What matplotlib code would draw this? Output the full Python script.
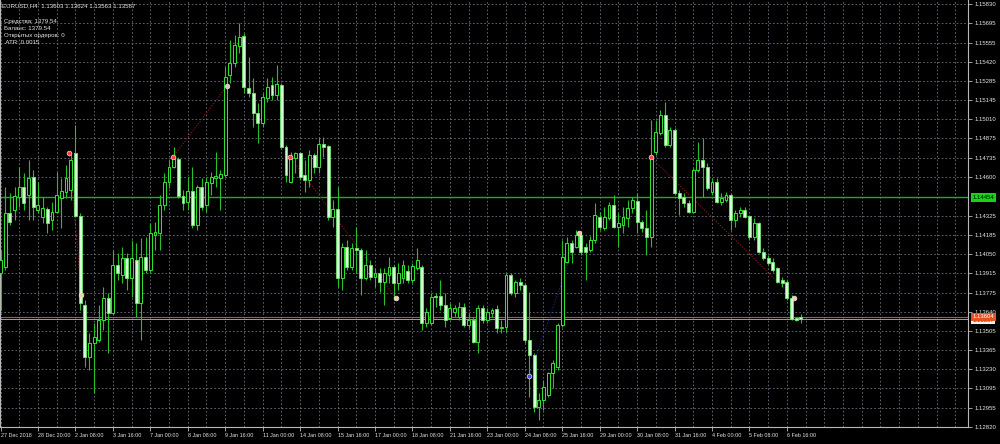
import matplotlib
matplotlib.use("Agg")
import matplotlib.pyplot as plt
import numpy as np

FONT = ['Liberation Sans', 'DejaVu Sans']

title_text = "EURUSD,H4  1.13603 1.13624 1.13563 1.13587"
info_lines = ["Средства: 1379.54", "Баланс: 1379.54", "Открытых ордеров: 0", " ATR: 0.0015"]

opens = [
    1.13915, 1.13958, 1.14342, 1.14364, 1.14456, 1.14528, 1.14471, 1.14599, 1.14364, 1.14314,
    1.14371, 1.14293, 1.14350, 1.14449, 1.14492, 1.14506, 1.14770, 1.14321, 1.13687, 1.13317,
    1.13417, 1.13438, 1.13581, 1.13737, 1.13630, 1.13972, 1.13901, 1.14022, 1.13880, 1.14008,
    1.13702, 1.14029, 1.13937, 1.14186, 1.14200, 1.14399, 1.14563, 1.14670, 1.14727, 1.14463,
    1.14421, 1.14499, 1.14257, 1.14528, 1.14399, 1.14556, 1.14592, 1.14592, 1.14613, 1.15325,
    1.15410, 1.15531, 1.15603, 1.15232, 1.15197, 1.15054, 1.14983, 1.15161, 1.15254, 1.15183,
    1.15254, 1.14812, 1.14563, 1.14734, 1.14770, 1.14613, 1.14577, 1.14755, 1.14670, 1.14834,
    1.14819, 1.14314, 1.14371, 1.13880, 1.14100, 1.13958, 1.14093, 1.14079, 1.13880, 1.13972,
    1.13887, 1.13915, 1.13851, 1.13901, 1.13958, 1.13844, 1.13880, 1.13929, 1.13865, 1.13951,
    1.13958, 1.13559, 1.13559, 1.13751, 1.13751, 1.13687, 1.13595, 1.13638, 1.13602, 1.13673,
    1.13545, 1.13581, 1.13424, 1.13666, 1.13581, 1.13630, 1.13659, 1.13524, 1.13531, 1.13901,
    1.13773, 1.13851, 1.13830, 1.13438, 1.13331, 1.12961, 1.13011, 1.13047, 1.13203, 1.13246,
    1.13545, 1.13994, 1.14129, 1.14100, 1.14186, 1.14100, 1.14079, 1.14150, 1.14314, 1.14236,
    1.14307, 1.14399, 1.14243, 1.14257, 1.14307, 1.14378, 1.14428, 1.14278, 1.14236, 1.14172,
    1.14777, 1.14912, 1.15040, 1.14827, 1.14933, 1.14485, 1.14456, 1.14414, 1.14350, 1.14649,
    1.14720, 1.14670, 1.14492, 1.14563, 1.14421, 1.14435, 1.14471, 1.14293, 1.14342, 1.14364,
    1.14321, 1.14172, 1.14271, 1.14065, 1.14022, 1.13994, 1.13951, 1.13865, 1.13851, 1.13737,
    1.13595, 1.13603,
]
highs = [
    1.14079, 1.14528, 1.14485, 1.14528, 1.14670, 1.14627, 1.14720, 1.14649, 1.14563, 1.14456,
    1.14385, 1.14421, 1.14634, 1.14592, 1.14684, 1.14777, 1.14969, 1.14342, 1.13723, 1.13488,
    1.13559, 1.13687, 1.13816, 1.13773, 1.14079, 1.14058, 1.14100, 1.14058, 1.14150, 1.14129,
    1.14164, 1.14172, 1.14271, 1.14278, 1.14471, 1.14627, 1.14720, 1.14812, 1.14741, 1.14506,
    1.14599, 1.14670, 1.14542, 1.14592, 1.14599, 1.14634, 1.14777, 1.14649, 1.15382, 1.15574,
    1.15610, 1.15695, 1.15624, 1.15453, 1.15304, 1.15126, 1.15197, 1.15304, 1.15311, 1.15396,
    1.15268, 1.14827, 1.14777, 1.14777, 1.14777, 1.14720, 1.14791, 1.14770, 1.14884, 1.14884,
    1.14827, 1.14435, 1.14528, 1.14129, 1.14150, 1.14129, 1.14243, 1.14093, 1.14079, 1.14008,
    1.13951, 1.13951, 1.13951, 1.14029, 1.13972, 1.13986, 1.14008, 1.13972, 1.13986, 1.14093,
    1.13972, 1.13666, 1.13773, 1.13773, 1.13865, 1.13773, 1.13702, 1.13687, 1.13709, 1.13702,
    1.13630, 1.13602, 1.13687, 1.13687, 1.13666, 1.13666, 1.13687, 1.13581, 1.13915, 1.13915,
    1.13865, 1.13880, 1.13844, 1.13780, 1.13346, 1.13061, 1.13153, 1.13210, 1.13296, 1.13559,
    1.14150, 1.14172, 1.14150, 1.14221, 1.14207, 1.14129, 1.14179, 1.14414, 1.14350, 1.14385,
    1.14421, 1.14471, 1.14342, 1.14385, 1.14435, 1.14456, 1.14485, 1.14293, 1.14364, 1.15005,
    1.15005, 1.15076, 1.15133, 1.14955, 1.14948, 1.14506, 1.14485, 1.14435, 1.14663, 1.14848,
    1.14876, 1.14698, 1.14592, 1.14592, 1.14485, 1.14492, 1.14485, 1.14364, 1.14385, 1.14385,
    1.14328, 1.14307, 1.14278, 1.14093, 1.14043, 1.14022, 1.13958, 1.13887, 1.13865, 1.13759,
    1.13602, 1.13624,
]
lows = [
    1.13652, 1.13937, 1.14257, 1.14293, 1.14385, 1.14364, 1.14293, 1.14293, 1.14342, 1.14271,
    1.14200, 1.14221, 1.14342, 1.14236, 1.14449, 1.14435, 1.14314, 1.13652, 1.13246, 1.13225,
    1.13061, 1.13424, 1.13509, 1.13346, 1.13616, 1.13865, 1.13844, 1.13794, 1.13744, 1.13602,
    1.13438, 1.13915, 1.13915, 1.14079, 1.14079, 1.14364, 1.14520, 1.14663, 1.14449, 1.14364,
    1.14364, 1.14236, 1.14221, 1.14364, 1.14350, 1.14471, 1.14528, 1.14364, 1.14599, 1.15268,
    1.15382, 1.15482, 1.15197, 1.15168, 1.14955, 1.14841, 1.14955, 1.15133, 1.15147, 1.15147,
    1.14805, 1.14563, 1.14556, 1.14627, 1.14577, 1.14492, 1.14528, 1.14627, 1.14627, 1.14741,
    1.14293, 1.14243, 1.13816, 1.13794, 1.13937, 1.13937, 1.13915, 1.13759, 1.13865, 1.13865,
    1.13816, 1.13780, 1.13687, 1.13844, 1.13723, 1.13794, 1.13844, 1.13844, 1.13844, 1.13937,
    1.13509, 1.13531, 1.13545, 1.13673, 1.13652, 1.13531, 1.13581, 1.13602, 1.13581, 1.13531,
    1.13524, 1.13417, 1.13346, 1.13559, 1.13559, 1.13602, 1.13488, 1.13488, 1.13495, 1.13759,
    1.13744, 1.13794, 1.13417, 1.13032, 1.12926, 1.12869, 1.12940, 1.13032, 1.13096, 1.13225,
    1.13531, 1.13986, 1.13986, 1.14093, 1.14043, 1.13865, 1.14065, 1.14129, 1.14221, 1.14221,
    1.14293, 1.14236, 1.14100, 1.14200, 1.14243, 1.14342, 1.14200, 1.14207, 1.14043, 1.14100,
    1.14755, 1.14898, 1.14812, 1.14812, 1.14471, 1.14328, 1.14385, 1.14342, 1.14342, 1.14634,
    1.14456, 1.14506, 1.14471, 1.14414, 1.14399, 1.14421, 1.14221, 1.14243, 1.14314, 1.14307,
    1.14150, 1.14150, 1.14058, 1.14008, 1.13972, 1.13922, 1.13844, 1.13816, 1.13723, 1.13581,
    1.13573, 1.13563,
]
closes = [
    1.14008, 1.14342, 1.14278, 1.14463, 1.14528, 1.14414, 1.14592, 1.14385, 1.14399, 1.14378,
    1.14271, 1.14350, 1.14471, 1.14499, 1.14592, 1.14720, 1.14321, 1.13702, 1.13317, 1.13417,
    1.13460, 1.13581, 1.13737, 1.13630, 1.13972, 1.13915, 1.14022, 1.13880, 1.14022, 1.13702,
    1.14029, 1.13937, 1.14200, 1.14207, 1.14399, 1.14563, 1.14670, 1.14734, 1.14463, 1.14414,
    1.14499, 1.14257, 1.14528, 1.14385, 1.14563, 1.14599, 1.14606, 1.14620, 1.15311, 1.15410,
    1.15539, 1.15596, 1.15240, 1.15197, 1.15054, 1.14983, 1.15168, 1.15240, 1.15183, 1.15261,
    1.14812, 1.14613, 1.14734, 1.14770, 1.14599, 1.14577, 1.14755, 1.14670, 1.14834, 1.14812,
    1.14314, 1.14371, 1.13880, 1.14100, 1.13958, 1.14093, 1.14079, 1.13880, 1.13972, 1.13887,
    1.13915, 1.13851, 1.13915, 1.13958, 1.13844, 1.13915, 1.13972, 1.13865, 1.13965, 1.14008,
    1.13559, 1.13638, 1.13744, 1.13744, 1.13687, 1.13581, 1.13666, 1.13666, 1.13673, 1.13545,
    1.13581, 1.13424, 1.13666, 1.13581, 1.13638, 1.13652, 1.13524, 1.13531, 1.13901, 1.13773,
    1.13851, 1.13830, 1.13438, 1.13331, 1.12961, 1.13011, 1.13104, 1.13203, 1.13274, 1.13545,
    1.14029, 1.14129, 1.14065, 1.14186, 1.14065, 1.14065, 1.14150, 1.14328, 1.14243, 1.14314,
    1.14399, 1.14243, 1.14271, 1.14314, 1.14378, 1.14435, 1.14278, 1.14236, 1.14172, 1.14741,
    1.14919, 1.15040, 1.14827, 1.14933, 1.14485, 1.14449, 1.14414, 1.14350, 1.14649, 1.14720,
    1.14670, 1.14520, 1.14563, 1.14421, 1.14449, 1.14471, 1.14293, 1.14342, 1.14364, 1.14314,
    1.14172, 1.14271, 1.14065, 1.14022, 1.13986, 1.13937, 1.13851, 1.13844, 1.13737, 1.13588,
    1.13581, 1.13587,
]

date_labels = ["27 Dec 2018", "28 Dec 20:00", "2 Jan 08:00", "3 Jan 16:00", "7 Jan 00:00",
               "8 Jan 08:00", "9 Jan 16:00", "11 Jan 00:00", "14 Jan 08:00", "15 Jan 16:00",
               "17 Jan 00:00", "18 Jan 08:00", "21 Jan 16:00", "23 Jan 00:00", "24 Jan 08:00",
               "25 Jan 16:00", "29 Jan 00:00", "30 Jan 08:00", "31 Jan 16:00", "4 Feb 00:00",
               "5 Feb 08:00", "6 Feb 16:00"]
bars_per_label = 8

price_ticks = [1.15830, 1.15695, 1.15555, 1.15420, 1.15285, 1.15145, 1.15010, 1.14875,
               1.14735, 1.14600, 1.14325, 1.14185, 1.14050, 1.13915, 1.13775, 1.13640,
               1.13505, 1.13365, 1.13230, 1.13095, 1.12955, 1.12820]
hidden_grid_level = 1.14460

green_level = 1.14454
ask_level = 1.13604
bid_level = 1.13587

# trade arrows (bar position, price, colour)
marker_bars = [14.7, 17.3, 36.8, 48.4, 61.9, 84.5, 112.9, 123.6, 138.9, 169.6]
marker_prices = [1.14770, 1.13759, 1.14741, 1.15247, 1.14741, 1.13737, 1.13182, 1.14200, 1.14741, 1.13737]
marker_colors = ['#ff4040', '#e8d0b0', '#ff4040', '#c8c8c8', '#ff4040', '#e8d0b0',
                 '#3050ff', '#f0b8b8', '#ff4040', '#e8d0b0']
trade_pairs = [(0, 1), (2, 3), (4, 5), (8, 9)]
buy_pair = (6, 7)

BG = 'black'
BULL_EDGE = '#2fe02f'
BEAR_FILL = '#d4fcd4'
WICK = '#28c028'
GRID = '#6c7280'
TXT = '#e6e6e6'

fig = plt.figure(figsize=(10, 4.44), dpi=100, facecolor=BG)
ax = fig.add_axes([0, 17 / 444, 0.968, 427 / 444], facecolor=BG)

n = len(closes)
x = np.arange(n)
o = np.array(opens[:n]); h = np.array(highs[:n]); l = np.array(lows[:n]); c = np.array(closes[:n])

# grid
for lev in price_ticks + [hidden_grid_level]:
    ax.axhline(lev, color=GRID, lw=0.6, ls=(0, (2, 2.5)), zorder=1)
for gx in range(0, 208, 4):
    ax.axvline(gx, color=GRID, lw=0.6, ls=(0, (2, 2.5)), zorder=1)

# wicks
ax.vlines(x, l, h, color=WICK, lw=0.8, zorder=3)
bull = c >= o
bear = ~bull
bw = 0.62
ax.bar(x[bull], np.maximum(c[bull] - o[bull], 0.00002), bottom=o[bull], width=bw,
       facecolor=BG, edgecolor=BULL_EDGE, linewidth=0.75, zorder=4)
ax.bar(x[bear], np.maximum(o[bear] - c[bear], 0.00002), bottom=c[bear], width=bw,
       facecolor=BEAR_FILL, edgecolor='#6ee86e', linewidth=0.6, zorder=4)

# horizontal levels
ax.axhline(green_level, color='#1fae1f', lw=1.0, zorder=2)
ax.axhline(ask_level, color='#d04a30', lw=0.8, zorder=2)
ax.axhline(bid_level, color='#b8b8c0', lw=0.6, zorder=2)

# trade lines
for a, b in trade_pairs:
    ax.plot([marker_bars[a], marker_bars[b]], [marker_prices[a], marker_prices[b]],
            color='#8a1c1c', lw=0.8, ls=(0, (1, 1.5)), zorder=2)
a, b = buy_pair
ax.plot([marker_bars[a], marker_bars[b]], [marker_prices[a], marker_prices[b]],
        color='#1c2a8a', lw=0.8, ls=(0, (1, 1.5)), zorder=2)
for mx, my, mc in zip(marker_bars, marker_prices, marker_colors):
    ax.plot([mx], [my], marker='o', ms=3.4, mfc=mc, mec='#ffd8d8', mew=0.5, zorder=6)

ax.set_xlim(-0.107, 206.7)
ax.set_ylim(1.12820, 1.15859)

# axes styling
ax.spines['top'].set_visible(False)
for side in ['left', 'right', 'bottom']:
    ax.spines[side].set_color('#b8b8b8')
    ax.spines[side].set_linewidth(0.8)

ax.yaxis.tick_right()
ax.set_yticks(price_ticks)
ax.set_yticklabels([f"{p:.5f}" for p in price_ticks])
ax.tick_params(axis='y', colors='#b8b8b8', labelcolor=TXT, length=3, width=0.6, pad=2, labelsize=4.3)
for t in ax.get_yticklabels():
    t.set_family(FONT)

label_pos = [i * bars_per_label for i in range(len(date_labels))]
ax.set_xticks(label_pos)
ax.set_xticklabels(date_labels)
ax.tick_params(axis='x', colors='#b8b8b8', labelcolor=TXT, length=3, width=0.6, pad=1.5, labelsize=3.9)
for t in ax.get_xticklabels():
    t.set_family(FONT)
    t.set_horizontalalignment('left')

# price boxes on the right axis
ytr = ax.get_yaxis_transform()
ax.text(1.0045, green_level, f"{green_level:.5f}", transform=ytr, fontsize=4.3, family=FONT,
        color='black', va='center', ha='left', clip_on=False, zorder=10,
        bbox=dict(boxstyle='square,pad=0.3', fc='#14d414', ec='none'))
ax.text(1.0045, bid_level - 0.00009, f"{bid_level:.5f}", transform=ytr, fontsize=4.3, family=FONT,
        color='#303030', va='center', ha='left', clip_on=False, zorder=10,
        bbox=dict(boxstyle='square,pad=0.2', fc='#f0f0f0', ec='none'))
ax.text(1.0045, ask_level, f"{ask_level:.5f}", transform=ytr, fontsize=4.3, family=FONT,
        color='white', va='center', ha='left', clip_on=False, zorder=11,
        bbox=dict(boxstyle='square,pad=0.3', fc='#e8501e', ec='none'))

# info text
fig.text(0.002, 1 - 6 / 444, title_text, fontsize=4.4, family=FONT, color=TXT, va='center', ha='left')
for k, line in enumerate(info_lines):
    fig.text(0.0035, 1 - (21 + 7 * k) / 444, line, fontsize=4.4, family=FONT, color=TXT,
             va='center', ha='left')

fig.savefig('out.png', dpi=100, facecolor=BG)
